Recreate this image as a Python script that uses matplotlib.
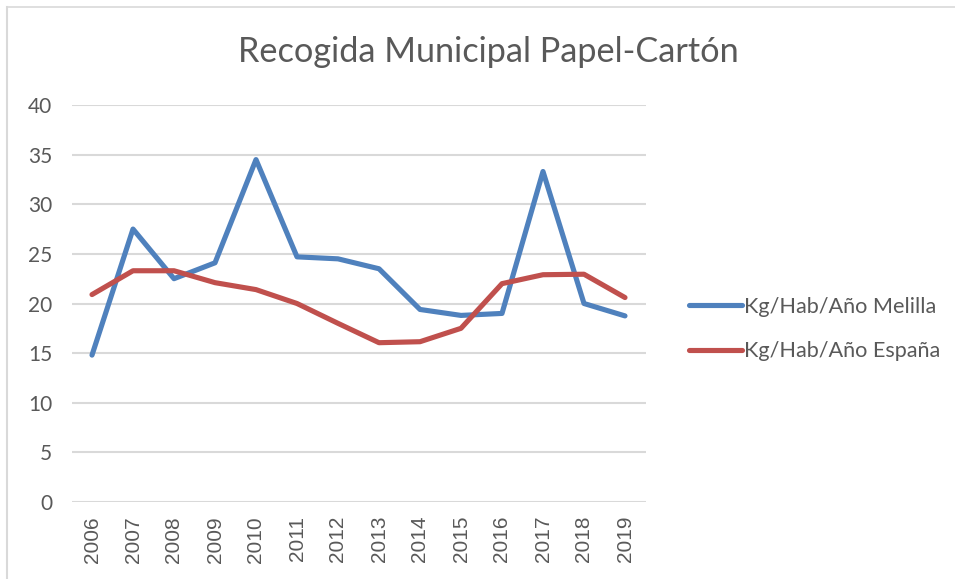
import matplotlib
matplotlib.use("Agg")
import matplotlib.pyplot as plt
from matplotlib.lines import Line2D

years = ["2006", "2007", "2008", "2009", "2010", "2011", "2012",
         "2013", "2014", "2015", "2016", "2017", "2018", "2019"]
melilla = [14.8, 27.5, 22.5, 24.1, 34.5, 24.7, 24.5,
           23.5, 19.4, 18.8, 19.0, 33.3, 20.0, 18.75]
espana = [20.9, 23.3, 23.3, 22.1, 21.4, 20.0, 18.0,
          16.05, 16.15, 17.5, 22.0, 22.9, 22.95, 20.6]

BLUE = "#4F81BD"
RED = "#C0504D"
TXT = "#595959"
LW = 3.7

fig = plt.figure(figsize=(9.55, 5.79), dpi=100)
ax = fig.add_axes([71.5 / 955, 1 - 502 / 579, 574 / 955, 397 / 579])

x = range(len(years))
ax.plot(x, melilla, color=BLUE, lw=LW, solid_joinstyle="round", solid_capstyle="round", zorder=3)
ax.plot(x, espana, color=RED, lw=LW, solid_joinstyle="round", solid_capstyle="round", zorder=3)

ax.set_xlim(-0.5, len(years) - 0.5)
ax.set_ylim(0, 40)
ax.set_yticks(range(0, 41, 5))
ax.set_xticks(list(x))
ax.set_xticklabels(years, rotation=90, fontsize=15, color=TXT, family="Liberation Sans")
for t in ax.get_yticklabels():
    t.set_fontsize(15)
    t.set_color(TXT)
    t.set_family("Lato")
ax.tick_params(length=0)
ax.tick_params(axis="y", pad=14)
ax.tick_params(axis="x", pad=10)
ax.yaxis.grid(True, color="#D9D9D9", lw=1.5)
ax.set_axisbelow(True)
for s in ax.spines.values():
    s.set_visible(False)

fig.text(488 / 955, 1 - 52 / 579, "Recogida Municipal Papel-Cartón", ha="center", va="center",
         fontsize=24.7, color=TXT, family="Lato")

handles = [Line2D([], [], color=BLUE, lw=LW, solid_capstyle="round"),
           Line2D([], [], color=RED, lw=LW, solid_capstyle="round")]
fig.legend(handles, ["Kg/Hab/Año Melilla", "Kg/Hab/Año España"],
           loc="center left", bbox_to_anchor=(669 / 955, 1 - 329 / 579),
           frameon=False, handlelength=2.45, handletextpad=0.1, labelspacing=1.15,
           prop={"family": "Lato", "size": 15.6}, labelcolor=TXT)

# chart frame
fig.add_artist(Line2D([7 / 955, 7 / 955], [0, 1 - 7 / 579], transform=fig.transFigure, color="#D9D9D9", lw=1.5))
fig.add_artist(Line2D([7 / 955, 1], [1 - 7 / 579, 1 - 7 / 579], transform=fig.transFigure, color="#D9D9D9", lw=1.2))

fig.savefig("out.png", dpi=100)
